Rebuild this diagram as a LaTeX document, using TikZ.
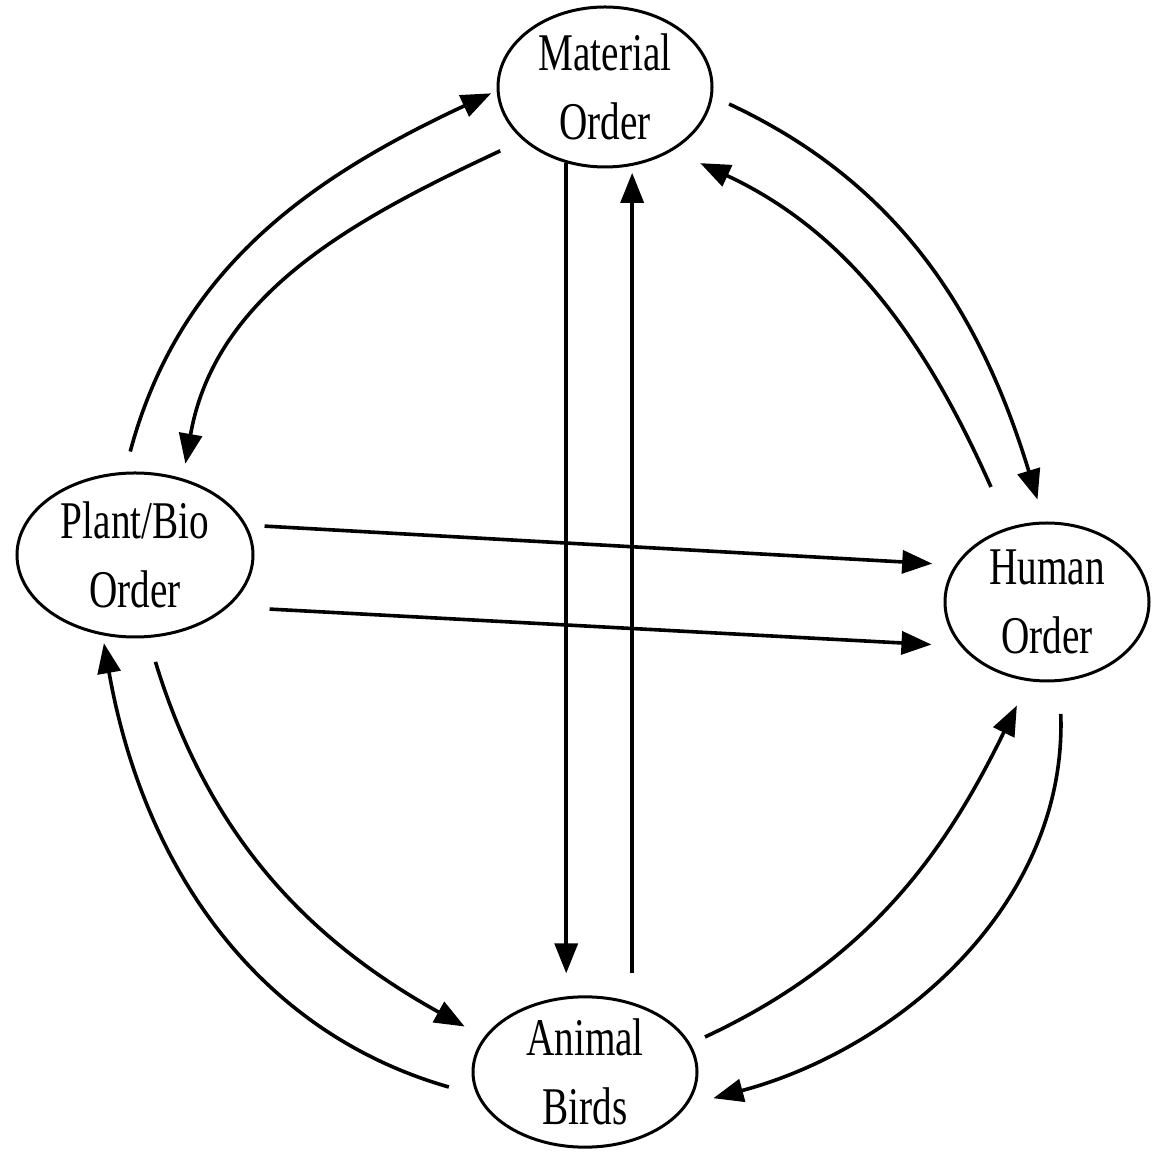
\documentclass[tikz,border=0pt]{standalone}
\usepackage{fontspec}
\setmainfont{Liberation Serif}
\usetikzlibrary{shapes.geometric,arrows.meta}
\newcommand{\sqz}[1]{\scalebox{0.74}[1]{#1}}
\begin{document}
\begin{tikzpicture}[x=1pt,y=1pt,
  ord/.style={ellipse, draw, line width=3pt, inner sep=0pt, align=center,
    font=\fontsize{53}{69}\selectfont},
  arr/.style={line width=3.6pt, -{Triangle[length=30pt,width=23pt]}}]
\useasboundingbox (0,0) rectangle (1152,1159);
\node[ord, minimum width=214pt, minimum height=160pt] (mat) at (605,1072) {\sqz{Material}\\\sqz{Order}};
\node[ord, minimum width=236pt, minimum height=164pt] (plant) at (135,604) {\sqz{Plant/Bio}\\\sqz{Order}};
\node[ord, minimum width=204pt, minimum height=158pt] (human) at (1047,557) {\sqz{Human}\\\sqz{Order}};
\node[ord, minimum width=224pt, minimum height=150pt] (animal) at (585,87) {\sqz{Animal}\\\sqz{Birds}};
% Plant <-> Material
\draw[arr, shorten <=21pt, shorten >=6pt] (plant.97) to[out=75,in=205] (mat.182);
\draw[arr, shorten <=25pt, shorten >=15pt] (mat.213) to[out=205,in=80] (plant.58);
% Material <-> Human
\draw[arr, shorten <=18pt, shorten >=23pt] (mat.-5) to[out=-25,in=107] (human.92);
\draw[arr, shorten <=44pt, shorten >=30pt] (human.117) to[out=114,in=-25] (mat.-43);
% Plant -> Human
\draw[arr, shorten <=18pt, shorten >=23pt] (plant.15) -- (human.158);
\draw[arr, shorten <=41pt, shorten >=29pt] (plant.-29) -- (human.207);
% Material <-> Animal
\draw[arr, shorten >=22pt] (mat.243) -- (mat.243 |- animal.north);
\draw[arr, shorten <=22pt, shorten >=7pt] (mat.289 |- animal.north) -- (mat.289);
% Plant <-> Animal
\draw[arr, shorten <=25pt, shorten >=22pt] (plant.-81) to[out=-73,in=151] (animal.161);
\draw[arr, shorten <=29pt, shorten >=8pt] (animal.192) to[out=164,in=-80] (plant.248);
% Animal <-> Human
\draw[arr, shorten <=16pt, shorten >=27pt] (animal.15) to[out=25,in=244] (human.257);
\draw[arr, shorten <=32pt, shorten >=27pt] (human.-81) to[out=-88,in=15] (animal.-18);
\end{tikzpicture}
\end{document}
